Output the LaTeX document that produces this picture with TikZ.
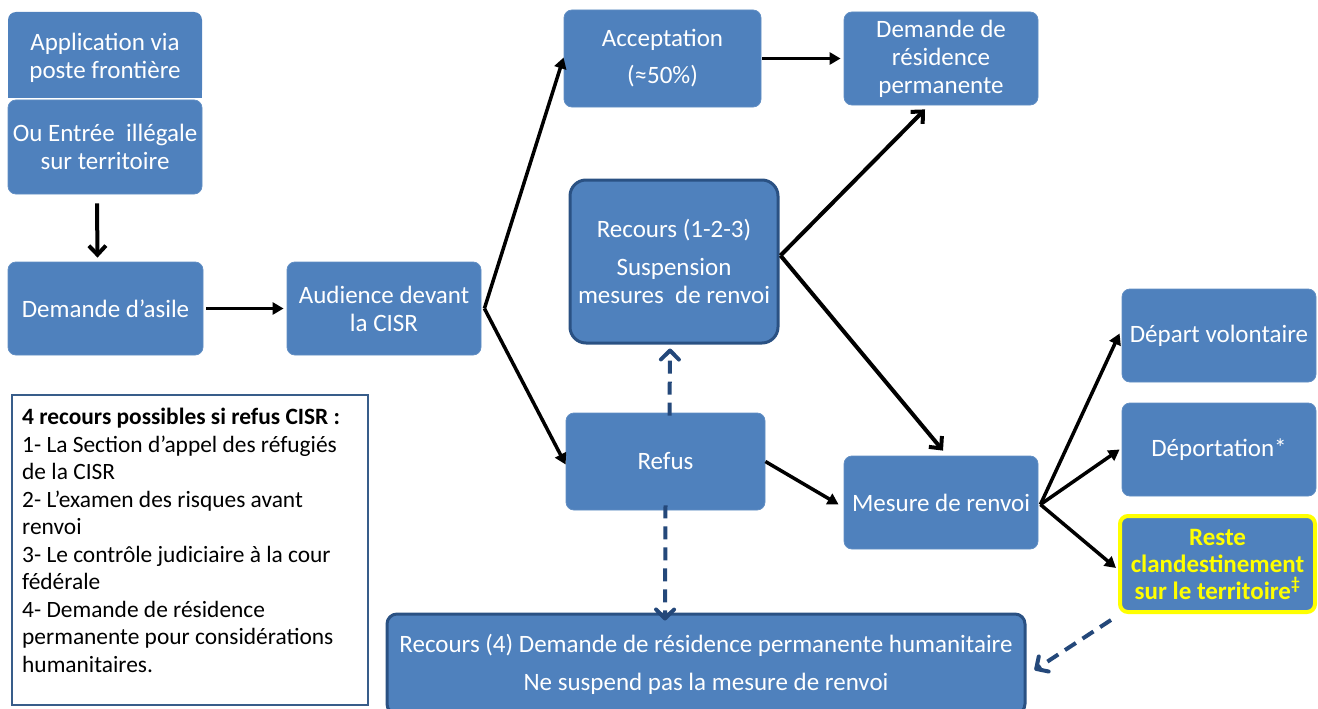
\documentclass[tikz,border=0pt]{standalone}
\usepackage{fontspec}
\setmainfont{Carlito}
\usetikzlibrary{arrows.meta}
\definecolor{boxblue}{HTML}{4F81BD}
\definecolor{darkedge}{HTML}{2A5183}
\definecolor{dashblue}{HTML}{24487A}
\definecolor{legedge}{HTML}{385D8A}
\definecolor{hiyellow}{HTML}{FFFF00}
\tikzset{
  x=1pt,y=-1pt,
  bbox/.style={fill=boxblue,draw=boxblue!90!white,line width=0.8pt,rounded corners=8pt,
    inner sep=0pt,text=white,align=center,font=\fontsize{25}{28}\selectfont},
  thickbox/.style={bbox,draw=darkedge,line width=3pt,rounded corners=16pt},
  arr/.style={draw=black,line width=3.5pt,-{Triangle[length=11pt,width=12pt]}},
  chev/.style={draw=black,line width=4pt,-{Straight Barb[length=9pt,width=17pt]}},
  dasharr/.style={draw=dashblue,line width=4pt,dash pattern=on 13pt off 8pt,
    -{Straight Barb[length=9pt,width=18pt,line cap=round,round]}},
}
\begin{document}
\begin{tikzpicture}
\useasboundingbox (0,0) rectangle (1318,709);
\begin{scope}
\clip (0,0) rectangle (1318,709);
% boxes
\fill[boxblue] (8,70) rectangle (202,98);
\node[bbox,draw=none,minimum width=194pt,minimum height=86pt] (app1) at (105,55) {};
\node[text=white,align=center,inner sep=0pt,font=\fontsize{25}{28}\selectfont] (app1t) at (105,58) {Application via\\poste frontière};
\node[bbox,minimum width=194pt,minimum height=94pt] (app2) at (105,147) {Ou Entrée\ \ illégale\\sur territoire};
\node[bbox,minimum width=195pt,minimum height=93pt] (asile) at (105.5,308.5) {Demande d’asile};
\node[bbox,minimum width=194pt,minimum height=93pt] (aud) at (384,308.5) {Audience devant\\la CISR};
\node[bbox,minimum width=197pt,minimum height=97pt] (acc) at (662.5,58.5) {Acceptation\\[9pt](≈50\%)};
\node[bbox,minimum width=194pt,minimum height=93pt] (drp) at (941,58.5) {Demande de\\résidence\\permanente};
\node[thickbox,minimum width=208pt,minimum height=163pt] (rec) at (674,261.5) {Recours (1-2-3)\\[10pt]Suspension\\mesures\ \ de renvoi};
\node[bbox,minimum width=199pt,minimum height=97pt] (refus) at (665.5,461.5) {Refus};
\node[bbox,minimum width=194pt,minimum height=93pt] (mes) at (941,502.5) {Mesure de renvoi};
\node[bbox,minimum width=194pt,minimum height=93pt] (dep) at (1219,335.5) {Départ volontaire};
\node[bbox,minimum width=194pt,minimum height=93pt] (deport) at (1219,449.5) {Déportation*};
\node[bbox,draw=hiyellow,line width=4pt,minimum width=195pt,minimum height=96pt,text=hiyellow,
  font=\bfseries\fontsize{25}{27}\selectfont] (reste) at (1217.5,564) {Reste\\clandestinement\\sur le territoire\textsuperscript{‡}};
\node[thickbox,rounded corners=10pt,minimum width=638pt,minimum height=100pt] (rec4) at (706,664)
  {Recours (4) Demande de résidence permanente humanitaire\\[10pt]Ne suspend pas la mesure de renvoi};
\node[draw=legedge,line width=1.5pt,fill=white,minimum width=356pt,minimum height=310pt,inner sep=0pt] (leg) at (190,550) {};
\node[anchor=north west,align=left,inner sep=0pt,font=\fontsize{23.4}{27.5}\selectfont,text=black] (legt) at (22,408)
 {\textbf{4 recours possibles si refus CISR :}\\
  1- La Section d’appel des réfugiés\\
  de la CISR\\
  2- L’examen des risques avant\\
  renvoi\\
  3- Le contrôle judiciaire à la cour\\
  fédérale\\
  4- Demande de résidence\\
  permanente pour considérations\\
  humanitaires.};
% connectors
\draw[chev] ([xshift=-8pt,yshift=-9pt]app2.south) -- ([xshift=-8pt,yshift=4pt]asile.north);
\draw[arr] ([xshift=3pt]asile.east) -- ([xshift=-3pt]aud.west);
\coordinate (audout) at ([xshift=3pt]aud.east);
\draw[arr] (audout) -- ([yshift=1pt]acc.west);
\draw[arr] (audout) -- ([yshift=-3pt]refus.west);
\draw[arr] ([xshift=1pt]acc.east) -- ([xshift=-3pt]drp.west);
\coordinate (recout) at ([xshift=1pt,yshift=6pt]rec.east);
\draw[chev] (recout) -- ([xshift=-16pt,yshift=-4pt]drp.south);
\draw[chev] (recout) -- ([xshift=2pt,yshift=5pt]mes.north);
\draw[dasharr] ([xshift=4pt,yshift=-3pt]refus.north) -- ([xshift=-4pt,yshift=-4pt]rec.south);
\draw[dasharr] ([xshift=0pt,yshift=5pt]refus.south) -- ([xshift=-41pt,yshift=-8pt]rec4.north);
\draw[arr] (refus.east) -- ([xshift=-5pt,yshift=-2pt]mes.west);
\coordinate (mesout) at ([xshift=2pt,yshift=-2pt]mes.east);
\draw[arr] (mesout) -- ([xshift=-2pt,yshift=2pt]dep.west);
\draw[arr] (mesout) -- ([xshift=-2pt]deport.west);
\draw[arr] (mesout) -- ([xshift=-2pt,yshift=-4pt]reste.west);
\draw[dasharr] ([xshift=-7pt,yshift=-6pt]reste.south west) -- ([xshift=8pt,yshift=-6pt]rec4.east);
\end{scope}
\end{tikzpicture}
\end{document}
